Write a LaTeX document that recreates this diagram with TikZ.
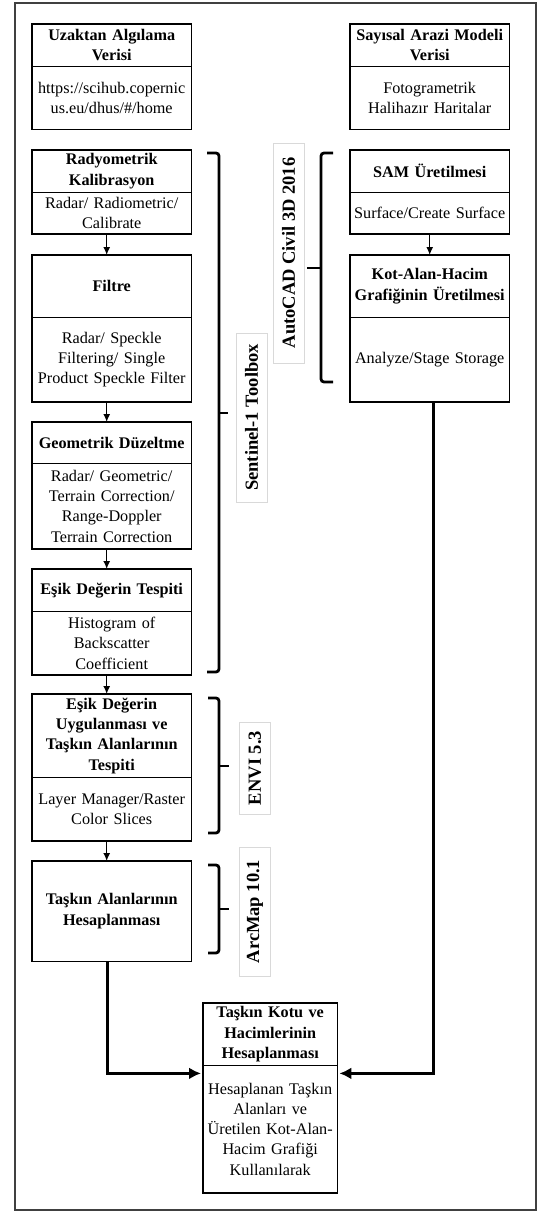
\documentclass[tikz,border=0pt]{standalone}
\usepackage{fontspec}
\setmainfont{Liberation Serif}
\usetikzlibrary{arrows.meta,calc}

\begin{document}
\begin{tikzpicture}[x=1pt, y=-1pt,
    hdr/.style={anchor=north west, minimum width=159pt, text width=157pt, align=center, inner sep=0pt, font=\fontsize{16.2}{20.3}\selectfont\bfseries},
    body/.style={hdr, font=\fontsize{16.2}{20.3}\selectfont},
    frame/.style={line width=1.4pt},
    split/.style={line width=0.8pt},
    arr/.style={-{Latex[length=8pt,width=7pt]}, line width=1.3pt},
    bigarr/.style={-{Latex[length=12pt,width=12pt]}, line width=3pt, shorten >=2pt},
    brace/.style={line width=2.8pt, rounded corners=3pt},
    tool/.style={rotate=90, draw=black!15, fill=white, minimum height=31pt, inner sep=0pt, font=\fontsize{18.5}{22}\selectfont\bfseries}]
    \useasboundingbox (0,0) rectangle (537,1212);
    \draw[line width=1.5pt, black!75] (15,3) rectangle (536,1210);

    % Left column: data and Sentinel-1 steps
    \node[hdr, minimum height=42pt] (uzaH) at (32,24) {Uzaktan Algılama\\Verisi};
    \node[body, minimum height=63pt] (uzaB) at (uzaH.south west) {https://scihub.copernic\\us.eu/dhus/\#/home};
    \node[hdr, minimum height=42pt] (radH) at (32,150) {Radyometrik\\Kalibrasyon};
    \node[body, minimum height=41pt] (radB) at (radH.south west) {Radar/ Radiometric/\\Calibrate};
    \node[hdr, minimum height=62pt] (filH) at (32,255) {Filtre};
    \node[body, minimum height=84pt] (filB) at (filH.south west) {Radar/ Speckle\\Filtering/ Single\\Product Speckle Filter};
    \node[hdr, minimum height=41pt] (geoH) at (32,422) {Geometrik Düzeltme};
    \node[body, minimum height=85pt] (geoB) at (geoH.south west) {Radar/ Geometric/\\Terrain Correction/\\Range-Doppler\\Terrain Correction};
    \node[hdr, minimum height=42pt] (eskH) at (32,569) {Eşik Değerin Tespiti};
    \node[body, minimum height=63pt] (eskB) at (eskH.south west) {Histogram of\\Backscatter\\Coefficient};
    \node[hdr, minimum height=83pt] (uygH) at (32,694) {Eşik Değerin\\Uygulanması ve\\Taşkın Alanlarının\\Tespiti};
    \node[body, minimum height=63pt] (uygB) at (uygH.south west) {Layer Manager/Raster\\Color Slices};
    \node[hdr, minimum height=100pt] (hasH) at (32,861) {Taşkın Alanlarının\\Hesaplanması};

    % Right column: terrain model
    \node[hdr, minimum height=42pt] (sayH) at (350,24) {Sayısal Arazi Modeli\\Verisi};
    \node[body, minimum height=63pt] (sayB) at (sayH.south west) {Fotogrametrik\\Halihazır Haritalar};
    \node[hdr, minimum height=42pt] (samH) at (350,150) {SAM Üretilmesi};
    \node[body, minimum height=41pt] (samB) at (samH.south west) {Surface/Create Surface};
    \node[hdr, minimum height=62pt] (kotH) at (350,255) {Kot-Alan-Hacim\\Grafiğinin Üretilmesi};
    \node[body, minimum height=84pt] (kotB) at (kotH.south west) {Analyze/Stage Storage};

    % Final step
    \node[hdr, minimum width=134pt, text width=132pt, minimum height=62pt] (finH) at (203,1003) {Taşkın Kotu ve\\Hacimlerinin\\Hesaplanması};
    \node[body, minimum width=134pt, text width=132pt, minimum height=127pt] (finB) at (finH.south west) {Hesaplanan Taşkın\\Alanları ve\\Üretilen Kot-Alan-\\Hacim Grafiği\\Kullanılarak};

    % Frames and dividers
    \foreach \a/\b in {uzaH/uzaB, radH/radB, filH/filB, geoH/geoB, eskH/eskB, uygH/uygB, sayH/sayB, samH/samB, kotH/kotB, finH/finB} {
        \draw[frame] (\a.north west) rectangle (\b.south east);
        \draw[split] (\a.south west) -- (\a.south east);
    }
    \draw[frame] (hasH.north west) rectangle (hasH.south east);

    % Arrows
    \foreach \a/\b in {radB/filH, filB/geoH, geoB/eskH, eskB/uygH, uygB/hasH}
        \draw[arr] ([xshift=-5pt]\a.south) -- ([xshift=-5pt]\b.north);
    \draw[arr] (samB) -- (kotH);
    \draw[bigarr] ([xshift=-4pt]hasH.south) |- ([yshift=-8pt]finB.north west);
    \draw[bigarr] ([xshift=4pt]kotB.south) |- ([yshift=-8pt]finB.north east);

    % Software brackets
    \draw[brace] (207,153) -- (219,153) -- (219,672) -- (207,672);
    \draw[brace] (219,413) -- (228,413);
    \draw[brace] (208,698) -- (219,698) -- (219,833) -- (208,833);
    \draw[brace] (219,766) -- (229,766);
    \draw[brace] (208,865) -- (219,865) -- (219,953) -- (208,953);
    \draw[brace] (219,909) -- (229,909);
    \draw[brace] (333,153) -- (321,153) -- (321,382) -- (333,382);
    \draw[brace] (321,268) -- (307,268);

    % Software labels
    \node[tool, minimum width=169pt] (sentL) at (251.5,417.5) {Sentinel-1 Toolbox};
    \node[tool, minimum width=220pt] (acadL) at (288.5,253) {AutoCAD Civil 3D 2016};
    \node[tool, minimum width=92pt] (enviL) at (255,768) {ENVI 5.3};
    \node[tool, minimum width=129pt] (arcL) at (255,911.5) {ArcMap 10.1};
\end{tikzpicture}
\end{document}
